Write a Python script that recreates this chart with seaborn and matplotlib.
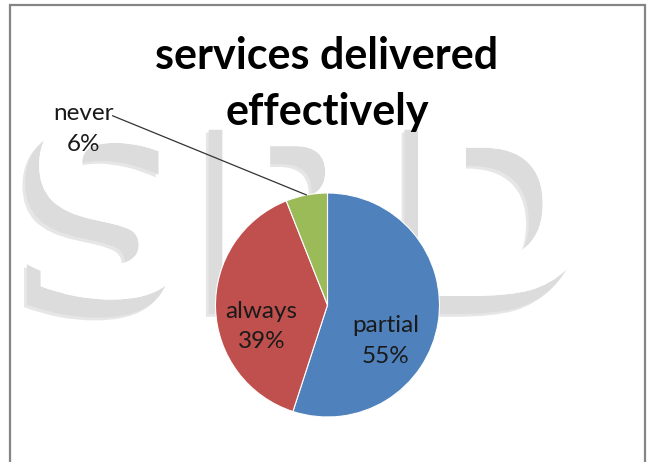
import matplotlib
matplotlib.use("Agg")
import numpy as np
import matplotlib.pyplot as plt
import matplotlib.patheffects as pe
from matplotlib.patches import Rectangle
import seaborn as sns

# Survey answers to "services delivered effectively"
categories = ["partial", "always", "never"]
shares = [55, 39, 6]
slice_colors = ["#4F81BD", "#C0504D", "#9BBB59"]
title_lines = ["services delivered", "effectively"]
watermark_letters = ["S", "P", "D"]

sns.set_theme(style="white")
plt.rcParams["font.family"] = ["Lato", "DejaVu Sans"]

W, H = 647, 462
fig = plt.figure(figsize=(W / 100, H / 100), dpi=100)
fig.patch.set_facecolor("white")


def fx(px):
    return px / W


def fy(py):
    return 1 - py / H


# faint watermark: white letters with a grey drop shadow
wm_effects = [
    pe.withSimplePatchShadow(offset=(-12, -15), shadow_rgbFace="#e6e6e6", alpha=1),
    pe.withSimplePatchShadow(offset=(-10, -13), shadow_rgbFace="#dcdcdc", alpha=1),
    pe.Normal(),
]
for letter, xc in zip(watermark_letters, [112, 292, 500]):
    fig.text(fx(xc), fy(226), letter, fontsize=182, fontweight="bold",
             family="DejaVu Sans", color="white", ha="center", va="center",
             path_effects=wm_effects, zorder=0)

# chart frame
fig.patches.append(Rectangle((fx(10), fy(470)), fx(645) - fx(10), fy(5) - fy(470),
                             transform=fig.transFigure, fill=False,
                             edgecolor="#858585", linewidth=1.6, zorder=1))

# title, two lines
for line, base in zip(title_lines, [69, 125]):
    fig.text(fx(327), fy(base), line, fontsize=31, fontweight="bold",
             color="black", ha="center", va="baseline", zorder=3)

# pie
cx, cy, r = 327.5, 305, 112
ax = fig.add_axes([fx(cx - r), fy(cy + r), 2 * r / W, 2 * r / H])
ax.set_zorder(2)
wedges, _ = ax.pie(shares, colors=slice_colors, startangle=90, counterclock=False,
                   wedgeprops=dict(edgecolor="white", linewidth=0.8))
ax.set_xlim(-1, 1)
ax.set_ylim(-1, 1)
ax.set_aspect("equal")
ax.axis("off")

label_kw = dict(fontsize=17.5, color="#1a1a1a", ha="center", va="center",
                linespacing=1.55, clip_on=False)
ax.text(0.52, -0.32, f"{categories[0]}\n{shares[0]}%", **label_kw)
ax.text(-0.59, -0.19, f"{categories[1]}\n{shares[1]}%", **label_kw)
ax.text(-2.18, 1.57, f"{categories[2]}\n{shares[2]}%", **label_kw)

# leader line to the small slice, ending at its mid-angle on the rim
start = 90 - 360 * (shares[0] + shares[1]) / sum(shares)
mid = np.deg2rad(start - 360 * shares[2] / sum(shares) / 2)
ax.plot([-1.92, np.cos(mid)], [1.69, np.sin(mid)], color="#333333",
        linewidth=0.9, clip_on=False)

fig.savefig("out.png", dpi=100, facecolor="white")
